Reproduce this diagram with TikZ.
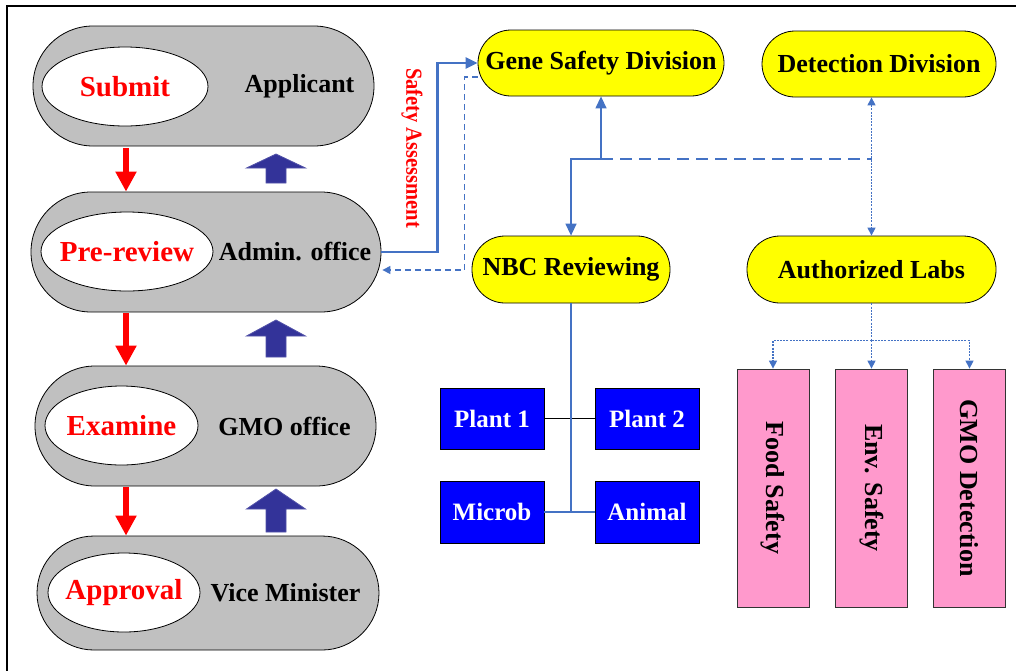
\documentclass[tikz,border=0pt]{standalone}
\usepackage{fontspec}
\setmainfont{Liberation Serif}
\usetikzlibrary{arrows.meta,calc,shapes.geometric}
\definecolor{capgray}{HTML}{C0C0C0}
\definecolor{lineblue}{HTML}{4472C4}
\definecolor{blkfill}{HTML}{333399}
\definecolor{pinkfill}{HTML}{FF99CC}
\definecolor{redtxt}{HTML}{FF0000}
\definecolor{boxblue}{HTML}{0000FF}
\definecolor{yel}{HTML}{FFFF00}
\newcommand\blkup[3]{\filldraw[blockarrow] (266,#1) -- (266,#2) -- (246.5,#2) -- (276,#3) -- (305.5,#2) -- (286,#2) -- (286,#1) -- cycle;}
\begin{document}
\begin{tikzpicture}[x=1pt,y=-1pt,
  capsule/.style={draw=black, line width=0.8pt, fill=capgray, inner sep=0pt},
  oval/.style={ellipse, draw=black, line width=0.8pt, fill=white, inner sep=0pt,
     text=redtxt, font=\bfseries\fontsize{29}{32}\selectfont},
  who/.style={font=\bfseries\fontsize{26}{30}\selectfont, inner sep=0pt},
  yelbox/.style={draw=black, line width=0.8pt, fill=yel, rounded corners=33pt,
     minimum height=66pt, inner sep=0pt, font=\bfseries\fontsize{26}{30}\selectfont},
  bluebox/.style={draw=black, line width=0.8pt, fill=boxblue, text=white, inner sep=0pt,
     minimum width=104pt, minimum height=61pt, font=\bfseries\fontsize{25}{30}\selectfont},
  pinkbox/.style={draw=black!80, line width=0.8pt, fill=pinkfill, inner sep=0pt,
     minimum width=72pt, minimum height=238pt},
  pinktext/.style={rotate=-90, font=\bfseries\fontsize{26}{30}\selectfont},
  redarrow/.style={draw=redtxt, line width=6pt, -{Triangle[width=20pt,length=20pt]}},
  blockarrow/.style={fill=blkfill, draw=blkfill!85!white, line width=0.8pt},
  thickline/.style={draw=lineblue, line width=2.6pt},
  thinline/.style={draw=lineblue, line width=1.4pt},
  dashline/.style={draw=lineblue, line width=1.4pt, dash pattern=on 12pt off 7pt},
  dotline/.style={draw=lineblue, line width=1.2pt, dash pattern=on 2pt off 1.2pt},
  tip/.style={-{Triangle[width=11pt,length=12pt]}},
  smalltip/.style={-{Triangle[width=8pt,length=8pt]}}
]
\useasboundingbox (0,0) rectangle (1016,670);
% frame
\draw[line width=2.5pt] (7,671) -- (7,6) -- (1017,6);

% gray capsules
\node[capsule, minimum width=341pt, minimum height=120pt, rounded corners=60pt] (c1) at (203.5,86) {};
\node[capsule, minimum width=350pt, minimum height=120pt, rounded corners=60pt] (c2) at (206,252) {};
\node[capsule, minimum width=341pt, minimum height=120pt, rounded corners=60pt] (c3) at (205.5,426) {};
\node[capsule, minimum width=342pt, minimum height=114pt, rounded corners=57pt] (c4) at (208,593) {};

\node[oval, minimum width=166pt, minimum height=79pt] (e1) at (125,86.5) {\makebox[0pt]{Submit}};
\node[oval, minimum width=172pt, minimum height=79pt] (e2) at (127,251.5) {\makebox[0pt]{Pre-review}};
\node[oval, minimum width=153pt, minimum height=79pt] (e3) at (121.5,425.5) {\makebox[0pt]{Examine}};
\node[oval, minimum width=152pt, minimum height=79pt] (e4) at (124,592.5) {\makebox[0pt]{Approval}};

\node[who] (w1) at (299.5,86) {Applicant};
\node[who] (w2) at (295,252) {Admin. office};
\node[who] (w3) at (284.5,426) {GMO office};
\node[who] (w4) at (285.5,593) {Vice Minister};

% red arrows
\draw[redarrow] (126,148) -- (c2.north -| 126,0);
\draw[redarrow] (126,313) -- (c3.north -| 126,0);
\draw[redarrow] (126,487) -- (c4.north -| 126,0);

% blue block arrows
\blkup{183}{168}{154}
\blkup{357}{336}{320}
\blkup{532}{509}{489}

% yellow nodes
\node[yelbox, minimum width=246pt] (gene) at (601,63) {Gene Safety Division};
\node[yelbox, minimum width=234pt] (det) at (879,64) {Detection Division};
\node[yelbox, minimum width=198pt, minimum height=67pt] (nbc) at (571,269.5) {NBC Reviewing};
\node[yelbox, minimum width=249pt, minimum height=67pt] (labs) at (871.5,269.5) {Authorized Labs};

% safety assessment
\draw[thickline, tip] (c2.east) -- ++(56,0) |- (gene.west);
\draw[dashline, line width=1.2pt, dash pattern=on 6pt off 4pt, smalltip] ([yshift=-14pt]gene.west) -- ++(-13,0) |- ([yshift=-18pt,xshift=1pt]c2.east);
\node[rotate=-90, text=redtxt, font=\bfseries\fontsize{23}{26}\selectfont, inner sep=0pt] (sa) at (412,148) {\scalebox{0.89}[1]{Safety Assessment}};

% gene / nbc / labs connectors
\coordinate (split) at (601,159);
\draw[thinline, tip] (split) -- (gene.south);
\draw[thinline, tip] (split) -- (split -| nbc.north) -- (nbc.north);
\draw[dashline] (split) -- (split -| labs.north);
\draw[dotline, {Triangle[width=8pt,length=8pt]}-{Triangle[width=8pt,length=8pt]}] (labs.north |- det.south) -- (labs.north);

% pink boxes
\node[pinkbox] (food) at (773,488) {};
\node[pinkbox] (env) at (871.5,488) {};
\node[pinkbox] (gmo) at (969.5,488) {};
\node[pinktext] (tfood) at (food.center) {Food Safety};
\node[pinktext] (tenv) at (env.center) {Env. Safety};
\node[pinktext] (tgmo) at (gmo.center) {GMO Detection};

\coordinate (bus) at ($(labs.south)+(0,37)$);
\draw[dotline] (labs.south) -- (bus);
\draw[dotline, smalltip] (bus) -- (env.north);
\draw[dotline, smalltip] (bus) -| (food.north);
\draw[dotline, smalltip] (bus) -| (gmo.north);

% blue boxes
\node[bluebox] (p1) at (492,418.5) {Plant 1};
\node[bluebox] (p2) at (647,418.5) {Plant 2};
\node[bluebox, minimum height=62pt] (mi) at (492,512) {Microb};
\node[bluebox, minimum height=62pt] (an) at (647,512) {Animal};

\draw[black, line width=1.4pt] (p1.east) -- (p2.west);
\draw[thinline] (nbc.south) -- (nbc.south |- mi.east);
\draw[thinline] (mi.east) -- (an.west);
\end{tikzpicture}
\end{document}
